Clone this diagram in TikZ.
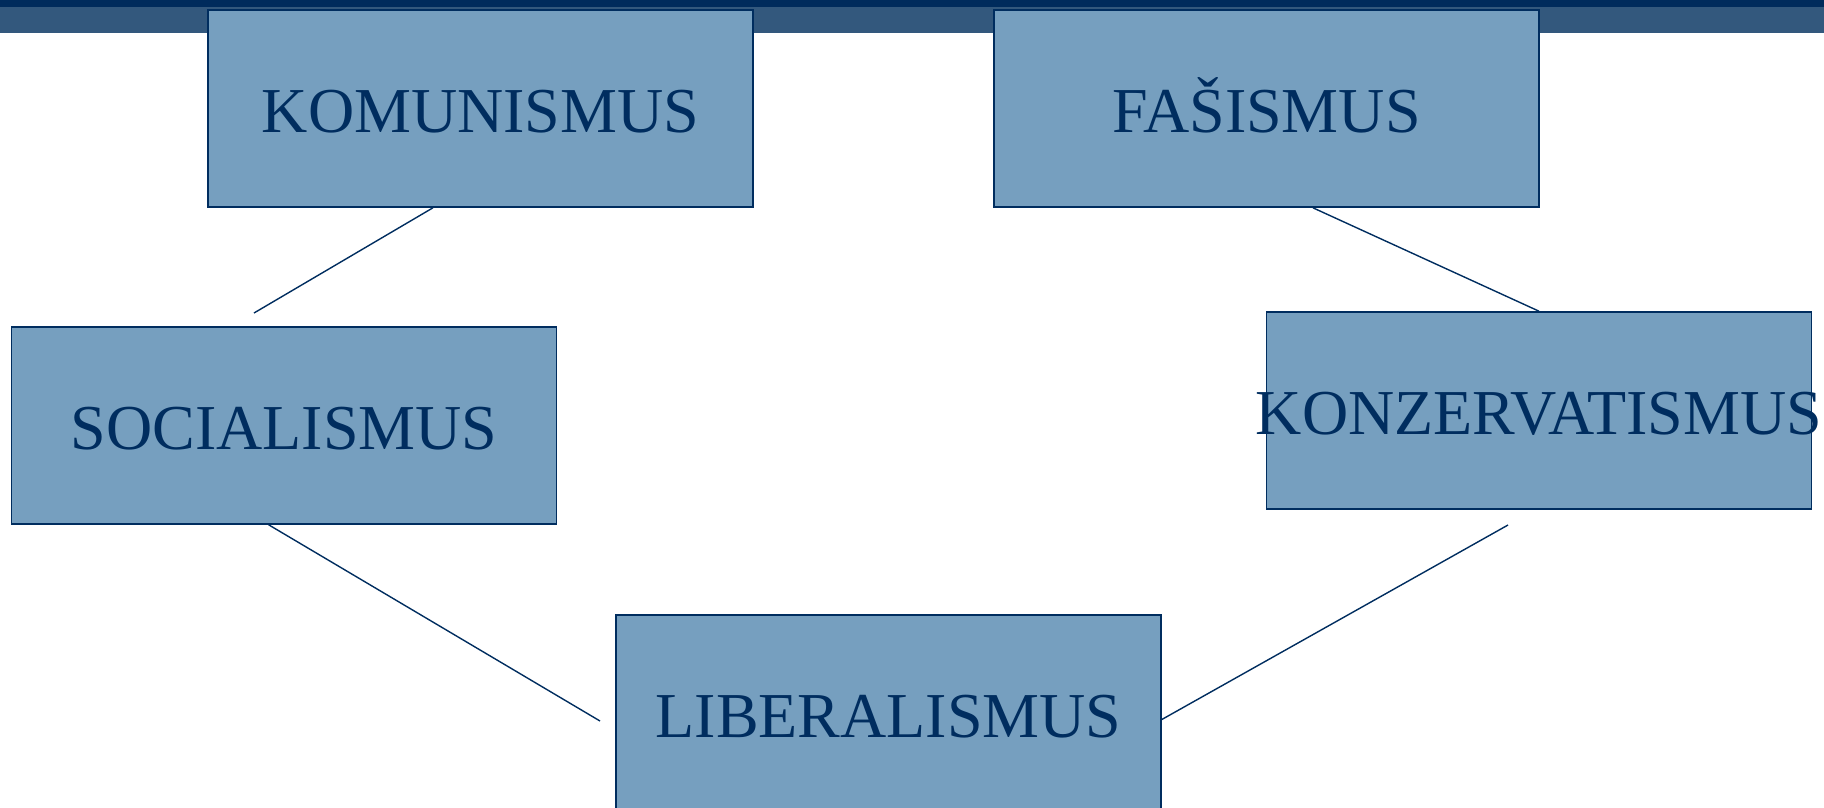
\documentclass[tikz,border=0pt]{standalone}
\usepackage{fontspec}
\setmainfont{Liberation Serif}
\usetikzlibrary{calc}
\definecolor{bardark}{RGB}{0,43,92}
\definecolor{barmid}{RGB}{51,88,125}
\definecolor{boxfill}{RGB}{118,159,191}
\definecolor{navy}{RGB}{0,45,95}
\tikzset{
  ideabox/.style={draw=navy, line width=1.6pt, fill=boxfill, rectangle,
    minimum width=545pt, minimum height=197pt, inner sep=0pt,
    text height=48pt, text depth=0pt,
    text=navy, font=\fontsize{64}{64}\selectfont},
  link/.style={draw=navy, line width=1.4pt}
}
\begin{document}
\begin{tikzpicture}[x=1pt,y=-1pt]
\useasboundingbox (0,0) rectangle (1824,807);
\fill[barmid] (0,0) rectangle (1824,33);
\fill[bardark] (0,0) rectangle (1824,7);
\node[ideabox] (kom) at (480.5,108.5) {\makebox[0pt]{KOMUNISMUS}};
\node[ideabox] (fas) at (1266.5,108.5) {\makebox[0pt]{FAŠISMUS}};
\node[ideabox] (soc) at (284,425.5) {\makebox[0pt]{SOCIALISMUS}};
\node[ideabox] (konz) at (1539,410.5) {\makebox[0pt]{KONZERVATISMUS}};
\node[ideabox] (lib) at (888.5,713.5) {\makebox[0pt]{LIBERALISMUS}};
\coordinate (e1) at (254,313);
\coordinate (e2) at (600,721);
\coordinate (e3) at (1508,525);
\draw[link] ($(kom.south west)!0.413!(kom.south east)$) -- (e1);
\draw[link] ($(fas.south west)!0.585!(fas.south east)$) -- (konz.north);
\draw[link] ($(soc.south west)!0.472!(soc.south east)$) -- (e2);
\draw[link] (e3) -- ([yshift=-6pt]lib.east);
\end{tikzpicture}
\end{document}
